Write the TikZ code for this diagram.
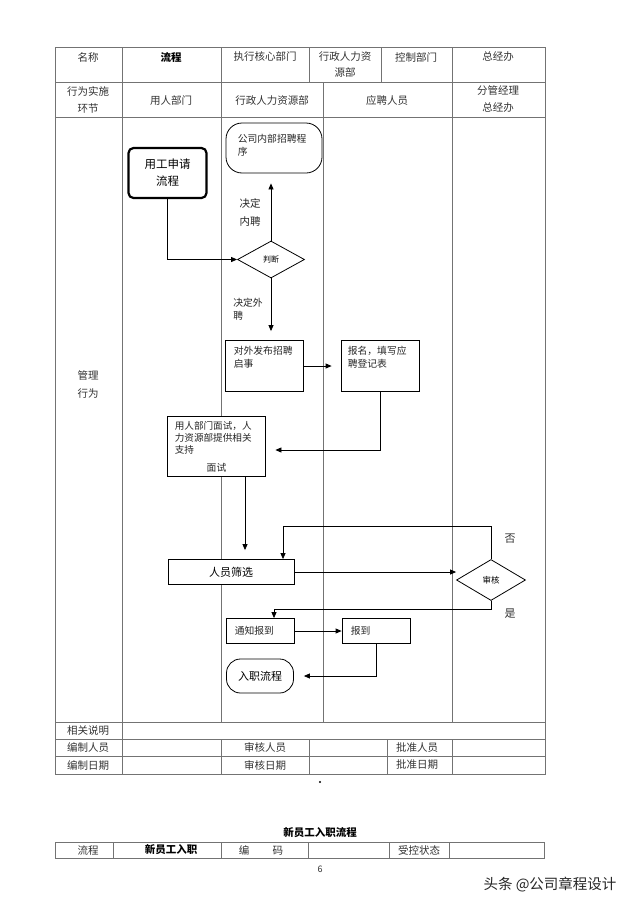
\documentclass[tikz,border=0pt]{standalone}
\usepackage{fontspec}
\setmainfont{Noto Sans CJK SC}
\usetikzlibrary{calc}
\usetikzlibrary{arrows.meta}
\usetikzlibrary{shapes.geometric}

\begin{document}
\begin{tikzpicture}[x=1pt,y=-1pt,
  rule/.style={draw=black!55, line width=0.6pt},
  flow/.style={draw=black, line width=0.8pt},
  arr/.style={flow, -{Triangle[length=6pt,width=5pt]}},
  box/.style={flow, fill=white, rectangle, inner sep=0pt},
  txt/.style={text=black!80, inner sep=0pt, align=center, font=\fontsize{10.5}{16}\selectfont},
  note/.style={text=black!85, inner sep=0pt, align=left, font=\fontsize{9.8}{13}\selectfont}
]
\useasboundingbox[fill=white] (0,0) rectangle (640,905);

% table frame
\draw[rule] (55,47) rectangle (545,774);
\draw[rule] (55,82) -- (545,82);
\draw[rule] (55,117) -- (545,117);
\draw[rule] (55,722) -- (545,722);
\draw[rule] (55,739) -- (545,739);
\draw[rule] (55,756) -- (545,756);
\foreach \x in {122, 221, 452}
\draw[rule] (\x,47) -- (\x,722);
\draw[rule] (323,82) -- (323,722);
\foreach \x in {309, 381}
\draw[rule] (\x,47) -- (\x,82);
\draw[rule] (122,722) -- (122,774);
\foreach \x in {221, 309, 387, 452}
\draw[rule] (\x,739) -- (\x,774);

% header
\node[txt] (h1) at (88,57) {名称};
\node[txt, font=\fontsize{10.5}{16}\selectfont\bfseries, text=black] (h2) at (171,57) {流程};
\node[txt] (h3) at (265,57) {执行核心部门};
\node[txt] (h4) at (345,65) {行政人力资\\源部};
\node[txt] (h5) at (416,57) {控制部门};
\node[txt] (h6) at (498,57) {总经办};
\node[txt, font=\fontsize{10.5}{17}\selectfont] (l1) at (88,99.5) {行为实施\\环节};
\node[txt] (l2) at (171,101) {用人部门};
\node[txt] (l3) at (272,101) {行政人力资源部};
\node[txt] (l4) at (387,101) {应聘人员};
\node[txt, font=\fontsize{10.5}{17}\selectfont] (l5) at (498,99.5) {分管经理\\总经办};
\node[txt, font=\fontsize{10.5}{18}\selectfont] (gl) at (88,384) {管理\\行为};

% flow
\node[box, line width=2.2pt, rounded corners=5pt, minimum width=78, minimum height=50, align=center, font=\fontsize{11.5}{17}\selectfont] (yg) at (167.5,173) {用工申请\\流程};
\node[box, rounded corners=16pt, minimum width=96, minimum height=50] (nei) at (274,148) {};
\node[note, anchor=north west] (neit) at ([shift={(12,11)}]nei.north west) {公司内部招聘程\\序};
\node[flow, fill=white, diamond, aspect=1.8, minimum width=67, minimum height=37, inner sep=0pt, font=\fontsize{8}{10}\selectfont] (pd) at (271,259.5) {判断};
\node[note, font=\fontsize{10.5}{18}\selectfont] (nein) at (250,212) {决定\\内聘};
\node[note] (wai) at (248,309) {决定外\\聘};
\node[box, minimum width=78, minimum height=51] (fb) at (264,366) {};
\node[note, anchor=north west] (fbt) at ([shift={(9,6)}]fb.north west) {对外发布招聘\\启事};
\node[box, minimum width=78, minimum height=51] (bm) at (380,366) {};
\node[note, anchor=north west] (bmt) at ([shift={(7,6)}]bm.north west) {报名，填写应\\聘登记表};
\node[box, minimum width=98, minimum height=60] (ms) at (216,446) {};
\node[note, font=\fontsize{9.6}{12}\selectfont, anchor=north west] (mst) at ([shift={(8,6)}]ms.north west) {用人部门面试，人\\力资源部提供相关\\支持};
\node[note] (msl) at (216.5,467.5) {面试};
\node[box, minimum width=126, minimum height=25, font=\fontsize{11}{12}\selectfont] (sx) at (231,572) {人员筛选};
\node[flow, fill=white, diamond, aspect=1.7, minimum width=69, minimum height=41, inner sep=0pt, font=\fontsize{8.5}{10}\selectfont] (sh) at (491,580) {审核};
\node[txt, font=\fontsize{11}{12}\selectfont] (no) at (510,539) {否};
\node[txt, font=\fontsize{11}{12}\selectfont] (yes) at (510,614) {是};
\node[box, minimum width=68, minimum height=25] (tz) at (260,631) {};
\node[note, anchor=west] (tzt) at ([xshift=9pt]tz.west) {通知报到};
\node[box, minimum width=68, minimum height=25] (bd) at (376,631) {};
\node[note, anchor=west] (bdt) at ([xshift=9pt]bd.west) {报到};
\node[box, rounded corners=14pt, minimum width=67, minimum height=34, font=\fontsize{11}{12}\selectfont] (rz) at (260,676) {入职流程};

\draw[arr] (yg.south) |- (pd.west);
\draw[arr] (pd.north) -- ($(pd.north |- nei.south)+(0,10)$);
\draw[arr] (pd.south) -- ($(pd.south |- fb.north)+(0,-9)$);
\draw[arr] (fb.east) -- ($(fb.east -| bm.west)+(-9,0)$);
\draw[arr] (bm.south) |- ($(ms.east)+(10,4)$);
\coordinate (msout) at ($(ms.south)+(29,0)$);
\draw[arr] (msout) -- ($(msout |- sx.north)+(0,-9)$);
\draw[arr] (sx.east) -- (sx.east -| sh.west);
\draw[arr] (sh.north) |- ($(sx.north)+(52,-33)$) -- ($(sx.north)+(52,0)$);
\draw[arr] (sh.south) |- ($(tz.north)+(14,-9)$) -- ($(tz.north)+(14,0)$);
\draw[arr] (tz.east) -- (bd.west);
\draw[arr] (bd.south) |- ($(rz.east)+(10,0)$);

% footer rows
\node[txt] (f1) at (88,730.5) {相关说明};
\node[txt] (f2) at (88,747.5) {编制人员};
\node[txt] (f3) at (265,747.5) {审核人员};
\node[txt] (f4) at (417,747.5) {批准人员};
\node[txt] (f5) at (88,765) {编制日期};
\node[txt] (f6) at (265,765) {审核日期};
\node[txt] (f7) at (417,765) {批准日期};
\fill[black] (320,782) circle (1.2);

% next page head
\node[txt, font=\fontsize{10.5}{12}\selectfont\bfseries, text=black] (t2) at (320,833) {新员工入职流程};
\draw[rule] (55,842) rectangle (544,858);
\foreach \x in {113, 221, 308, 389, 449}
\draw[rule] (\x,842) -- (\x,858);
\node[txt] (n1) at (88,850) {流程};
\node[txt, font=\fontsize{10.5}{12}\selectfont\bfseries, text=black] (n2) at (171,850) {新员工入职};
\node[txt] (n3) at (261,850) {编\hspace{2.2em}码};
\node[txt] (n4) at (419,850) {受控状态};
\node[txt, font=\fontsize{9}{10}\selectfont] (pg) at (320,869) {6};
\node[txt, text=black!85, font=\fontsize{14.5}{16}\selectfont] (wm) at (550,885) {头条 @公司章程设计};
\end{tikzpicture}
\end{document}
